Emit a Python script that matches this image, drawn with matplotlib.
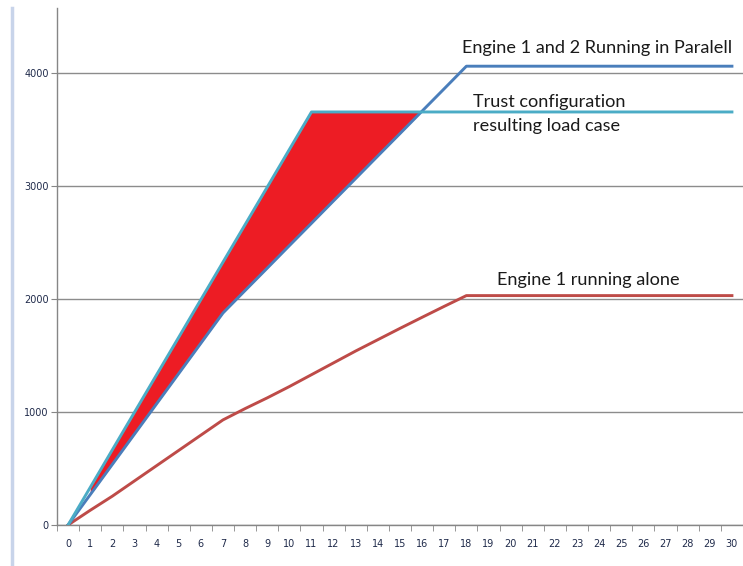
import numpy as np
import matplotlib
matplotlib.use("Agg")
import matplotlib.pyplot as plt
from matplotlib.lines import Line2D

# Load (y) per step 0..30
steps = list(range(31))
engine_1_alone = [0, 130, 255, 390, 525, 660, 795, 930, 1030, 1125, 1225,
                  1330, 1435, 1540, 1640, 1740, 1838, 1935, 2030] + [2030] * 12
engines_parallel = [0, 268, 536, 804, 1072, 1340, 1608, 1876, 2075, 2273,
                    2472, 2670, 2869, 3067, 3266, 3464, 3663, 3861,
                    4060] + [4060] * 12
trust_config = [0, 332, 665, 997, 1329, 1661, 1994, 2326, 2658, 2990, 3323,
                3655] + [3655] * 19
y_ticks = [0, 1000, 2000, 3000, 4000]

W, H = 743, 566
fig = plt.figure(figsize=(W / 100, H / 100), dpi=100)
ax = fig.add_axes([57 / W, 41 / H, (W - 57) / W, 517 / H])

x = np.array(steps, dtype=float)
blue = np.array(engines_parallel, dtype=float)
teal = np.array(trust_config, dtype=float)

# red band between the trust line and the parallel line
m = x >= 1
ax.fill_between(x[m], blue[m], teal[m], where=teal[m] >= blue[m],
                interpolate=True, color="#ed1c24", lw=0, zorder=2)

ax.plot(x, engine_1_alone, color="#be4b48", lw=2.1, zorder=3)
ax.plot(x, engines_parallel, color="#4a7ebb", lw=2.1, zorder=3)
ax.plot(x, trust_config, color="#4bacc6", lw=2.1, zorder=4)

ax.set_xlim(-0.5, (W - 67.5) / 22.4)
ax.set_ylim(0, 4575)

ax.set_xticks(steps)
ax.set_xticklabels([str(s) for s in steps])
ax.set_xticks(np.arange(-0.5, 31, 1), minor=True)
ax.tick_params(axis="x", which="major", length=0, pad=10,
               labelsize=7, labelcolor="#1f2a4a")
ax.tick_params(axis="x", which="minor", length=4, color="#868686",
               direction="out")
ax.set_yticks(y_ticks)
ax.tick_params(axis="y", length=4, color="#868686", pad=2,
               labelsize=7, labelcolor="#1f2a4a")

ax.grid(axis="y", color="#8c8c8c", lw=1)
ax.set_axisbelow(True)
for s in ["top", "right"]:
    ax.spines[s].set_visible(False)
for s in ["left", "bottom"]:
    ax.spines[s].set_color("#868686")
    ax.spines[s].set_linewidth(1)

txt = dict(family="Lato", fontsize=13.1, color="#1a1a1a", va="center",
           ha="left")
ax.text(17.8, 4221, "Engine 1 and 2 Running in Paralell", **txt)
ax.text(18.3, 3743, "Trust configuration", **txt)
ax.text(18.3, 3531, "resulting load case", **txt)
ax.text(19.4, 2168, "Engine 1 running alone", **txt)

# chart-area border strip on the left
fig.add_artist(Line2D([12 / W, 12 / W], [0, 558 / H], color="#c8d4ea",
                      lw=2.5, transform=fig.transFigure))

fig.savefig("out.png", dpi=100, facecolor="white")
